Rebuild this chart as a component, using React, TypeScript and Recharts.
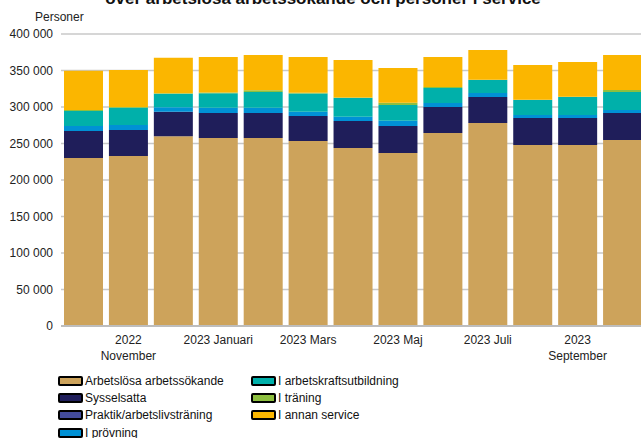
import React from "react";
import { BarChart, Bar, XAxis, YAxis, CartesianGrid } from "recharts";

const months = [
  "2022-10", "2022-11", "2022-12", "2023-01", "2023-02", "2023-03", "2023-04",
  "2023-05", "2023-06", "2023-07", "2023-08", "2023-09", "2023-10",
];
const xLabels = [
  "", "2022\nNovember", "", "2023 Januari", "", "2023 Mars", "", "2023 Maj", "", "2023 Juli", "", "2023\nSeptember", "",
];
const yTicks = [0, 50000, 100000, 150000, 200000, 250000, 300000, 350000, 400000];

const arbetslosa = [230000, 233000, 260000, 257500, 257500, 253400, 243800, 237000, 264400, 278000, 248000, 248000, 254800];
const sysselsatta = [37000, 35500, 33600, 34300, 34300, 34300, 37000, 37000, 35600, 35700, 37000, 37000, 37000];
const praktik = [0, 0, 0, 0, 0, 0, 0, 0, 0, 0, 0, 0, 0];
const provning = [7000, 6800, 6000, 7200, 7200, 5900, 5900, 7200, 5500, 5500, 4000, 4000, 4200];
const utbildning = [20500, 23700, 18600, 19700, 21500, 25000, 25600, 21500, 20500, 17800, 20600, 24700, 24500];
const traning = [1500, 1000, 800, 1200, 2500, 1000, 800, 3000, 1500, 500, 500, 500, 2800];
const annan = [53500, 50700, 48500, 48600, 48200, 48900, 51300, 47700, 41000, 40500, 47400, 47400, 48000];

const series = [
  { key: "arbetslosa", name: "Arbetslösa arbetssökande", color: "#CDA35B", values: arbetslosa },
  { key: "sysselsatta", name: "Sysselsatta", color: "#1F1E5A", values: sysselsatta },
  { key: "praktik", name: "Praktik/arbetslivsträning", color: "#434C9C", values: praktik },
  { key: "provning", name: "I prövning", color: "#0091D5", values: provning },
  { key: "utbildning", name: "I arbetskraftsutbildning", color: "#00B0AA", values: utbildning },
  { key: "traning", name: "I träning", color: "#8DBF3F", values: traning },
  { key: "annan", name: "I annan service", color: "#FBB600", values: annan },
];

const data = months.map((m, i) => {
  const row: Record<string, any> = { month: m, label: xLabels[i] };
  series.forEach((s) => (row[s.key] = s.values[i]));
  return row;
});

const fmt = (v: number) => {
  if (v === 0) return "0";
  const s = String(v);
  return s.slice(0, s.length - 3) + " " + s.slice(s.length - 3);
};

const XTick = (props: any) => {
  const { x, y, index } = props;
  const lab = xLabels[index] || "";
  if (!lab) return null;
  const lines = lab.split("\n");
  return (
    <text x={x} y={y} textAnchor="middle" fontSize={12} fill="#222" fontFamily="Arial, 'Liberation Sans', sans-serif">
      {lines.map((l, i) => (
        <tspan key={i} x={x} dy={i === 0 ? 18 : 16}>
          {l}
        </tspan>
      ))}
    </text>
  );
};

const legendPos = [
  { left: 58, cy: 380.5 },
  { left: 58, cy: 397.5 },
  { left: 58, cy: 415 },
  { left: 58, cy: 432.5 },
  { left: 251, cy: 380.5 },
  { left: 251, cy: 397.5 },
  { left: 251, cy: 415 },
];

export default function App() {
  const font = "Arial, 'Liberation Sans', sans-serif";
  return (
    <div
      style={{
        position: "absolute",
        left: 0,
        top: 0,
        width: 641,
        height: 438,
        overflow: "hidden",
        background: "#fff",
        fontFamily: font,
      }}
    >
      <div
        style={{
          position: "absolute",
          left: 0,
          width: 646,
          top: -10.5,
          textAlign: "center",
          fontSize: 17,
          lineHeight: "17px",
          fontWeight: "bold",
          color: "#111",
          whiteSpace: "nowrap",
        }}
      >
        över arbetslösa arbetssökande och personer i service
      </div>
      <div
        style={{
          position: "absolute",
          left: 35,
          top: 10.5,
          fontSize: 12,
          lineHeight: "12px",
          color: "#222",
          whiteSpace: "nowrap",
        }}
      >
        Personer
      </div>
      <BarChart
        width={660}
        height={438}
        data={data}
        margin={{ top: 34, right: 15, bottom: 0, left: 0 }}
        barSize={39}
        style={{ fontFamily: font }}
      >
        <CartesianGrid vertical={false} stroke="#c8c8c8" strokeWidth={1.5} />
        <XAxis
          dataKey="month"
          interval={0}
          tick={<XTick />}
          tickLine={false}
          tickSize={0}
          tickMargin={0}
          axisLine={{ stroke: "#bdbdbd", strokeWidth: 2 }}
          height={112}
        />
        <YAxis
          width={61}
          domain={[0, 400000]}
          ticks={yTicks}
          tickFormatter={fmt}
          axisLine={false}
          tickLine={false}
          tickSize={0}
          tickMargin={8}
          tick={{ fontSize: 12, fill: "#222" }}
        />
        {series.map((s) => (
          <Bar key={s.key} dataKey={s.key} name={s.name} stackId="a" fill={s.color} isAnimationActive={false} />
        ))}
      </BarChart>
      {series.map((s, i) => (
        <div
          key={s.key}
          style={{
            position: "absolute",
            left: legendPos[i].left,
            top: legendPos[i].cy - 8,
            height: 16,
            display: "flex",
            alignItems: "center",
            fontSize: 12,
            color: "#111",
            whiteSpace: "nowrap",
          }}
        >
          <div
            style={{
              width: 25,
              height: 10,
              boxSizing: "border-box",
              border: "2px solid #000",
              borderRadius: 2,
              background: s.color,
              marginRight: 2,
            }}
          />
          <span>{s.name}</span>
        </div>
      ))}
    </div>
  );
}
